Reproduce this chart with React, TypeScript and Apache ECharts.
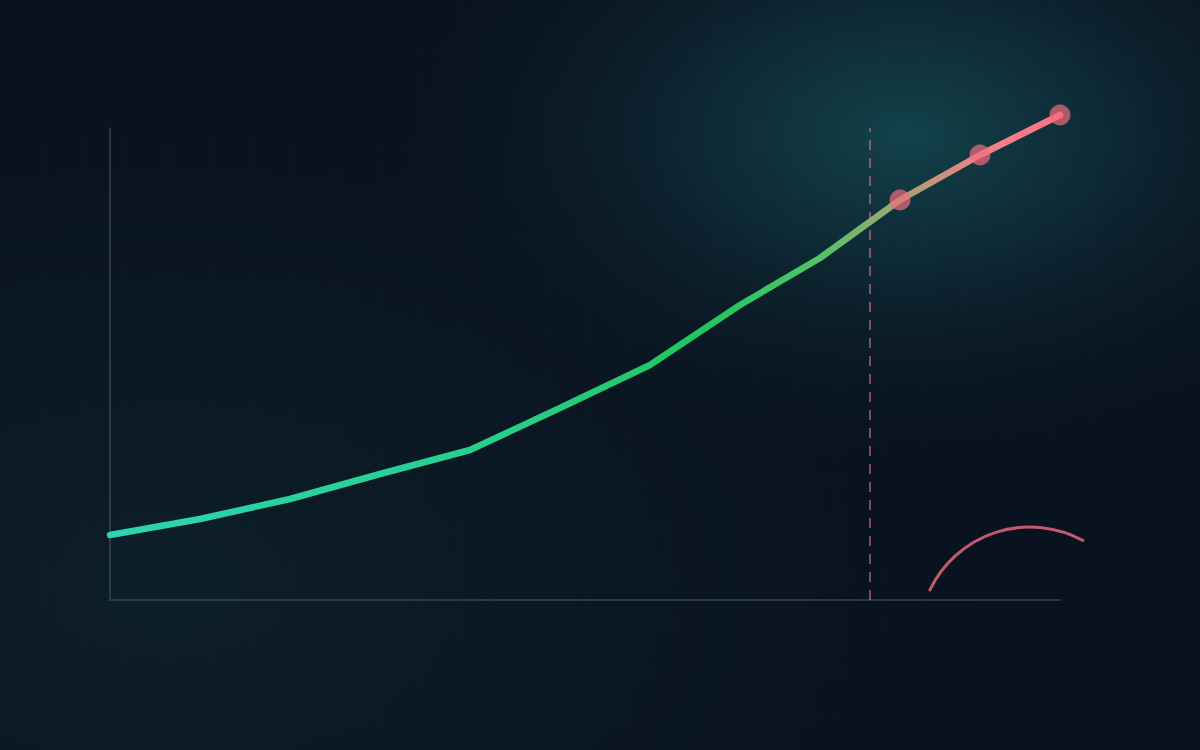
import React, { useEffect, useRef } from "react";
import * as echarts from "echarts";

// Horizontal position of each observation (time units from the origin)
const xValues = [0, 9, 18, 27, 36, 45, 54, 63, 71, 79, 87, 95];
// Observed / projected values
const yValues = [65, 81, 101, 126, 150, 192, 235, 295, 342, 400, 445, 485];
// Index where the projected (marked) points start
const forecastStart = 9;
// Position of the dashed "now" divider on the x axis
const dividerX = [76];
// Axis ranges
const xRange = [0, 95];
const yRange = [0, 472];

export default function App() {
  const ref = useRef<HTMLDivElement>(null);

  useEffect(() => {
    document.body.style.margin = "0";
    const chart = echarts.init(ref.current!, undefined, { renderer: "svg" });

    const data = xValues.map((x, i) => ({
      value: [x, yValues[i]],
      symbol: i >= forecastStart ? "circle" : "none",
    }));

    const gridLines: any[] = [];
    for (let x = 42; x < 1200; x += 42) {
      gridLines.push({
        type: "line",
        silent: true,
        shape: { x1: x, y1: 0, x2: x, y2: 750 },
        style: { stroke: "rgba(255,255,255,0.016)", lineWidth: 1 },
      });
    }
    for (let y = 48; y < 750; y += 48) {
      gridLines.push({
        type: "line",
        silent: true,
        shape: { x1: 0, y1: y, x2: 1200, y2: y },
        style: { stroke: "rgba(255,255,255,0.016)", lineWidth: 1 },
      });
    }

    chart.setOption({
      animation: false,
      backgroundColor: "#09131f",
      graphic: [
        {
          type: "rect",
          silent: true,
          z: -10,
          shape: { x: 0, y: 0, width: 1200, height: 750 },
          style: {
            fill: {
              type: "radial",
              x: 0.14,
              y: 0.78,
              r: 0.7,
              colorStops: [
                { offset: 0, color: "rgba(15,40,48,0.6)" },
                { offset: 0.55, color: "rgba(13,30,40,0.35)" },
                { offset: 1, color: "rgba(9,19,31,0)" },
              ],
            },
          },
        },
        {
          type: "rect",
          silent: true,
          z: -9,
          shape: { x: 0, y: 0, width: 1200, height: 750 },
          style: {
            fill: {
              type: "radial",
              x: 0.755,
              y: 0.18,
              r: 0.46,
              colorStops: [
                { offset: 0, color: "rgba(21,74,82,0.85)" },
                { offset: 0.35, color: "rgba(18,62,72,0.55)" },
                { offset: 0.7, color: "rgba(14,42,54,0.2)" },
                { offset: 1, color: "rgba(9,19,31,0)" },
              ],
            },
          },
        },
        ...gridLines,
        {
          type: "arc",
          silent: true,
          shape: {
            cx: 1030,
            cy: 638,
            r: 111,
            startAngle: -2.694,
            endAngle: -1.075,
            clockwise: true,
          },
          style: { stroke: "#c2596f", lineWidth: 3, lineCap: "round", fill: "none" },
        },
      ],
      grid: { left: 110, right: 140, top: 128, bottom: 150 },
      xAxis: {
        type: "value",
        min: xRange[0],
        max: xRange[1],
        axisLine: { show: true, lineStyle: { color: "#384453", width: 1.5 } },
        axisTick: { show: false },
        axisLabel: { show: false },
        splitLine: { show: false },
      },
      yAxis: {
        type: "value",
        min: yRange[0],
        max: yRange[1],
        axisLine: { show: true, lineStyle: { color: "#384453", width: 1.5 } },
        axisTick: { show: false },
        axisLabel: { show: false },
        splitLine: { show: false },
      },
      series: [
        {
          type: "line",
          data,
          clip: false,
          smooth: false,
          symbolSize: 21,
          itemStyle: { color: "rgba(242,108,128,0.7)", borderWidth: 0 },
          lineStyle: {
            width: 6.5,
            cap: "round",
            join: "round",
            color: {
              type: "linear",
              x: 0,
              y: 0,
              x2: 1,
              y2: 0,
              colorStops: [
                { offset: 0, color: "#2dd4b2" },
                { offset: 0.4, color: "#27cf8c" },
                { offset: 0.62, color: "#22c55e" },
                { offset: 0.74, color: "#4cc466" },
                { offset: 0.8, color: "#82b26c" },
                { offset: 0.87, color: "#c8917a" },
                { offset: 0.92, color: "#f28286" },
                { offset: 1, color: "#ff7088" },
              ],
            },
          },
          emphasis: { disabled: true },
          markLine: {
            silent: true,
            symbol: "none",
            label: { show: false },
            lineStyle: { color: "rgba(214,122,152,0.75)", type: [10, 8], width: 1.5 },
            data: dividerX.map((x) => ({ xAxis: x })),
          },
        },
      ],
    });

    return () => chart.dispose();
  }, []);

  return (
    <div
      ref={ref}
      style={{ position: "fixed", left: 0, top: 0, width: 1200, height: 750 }}
    />
  );
}
